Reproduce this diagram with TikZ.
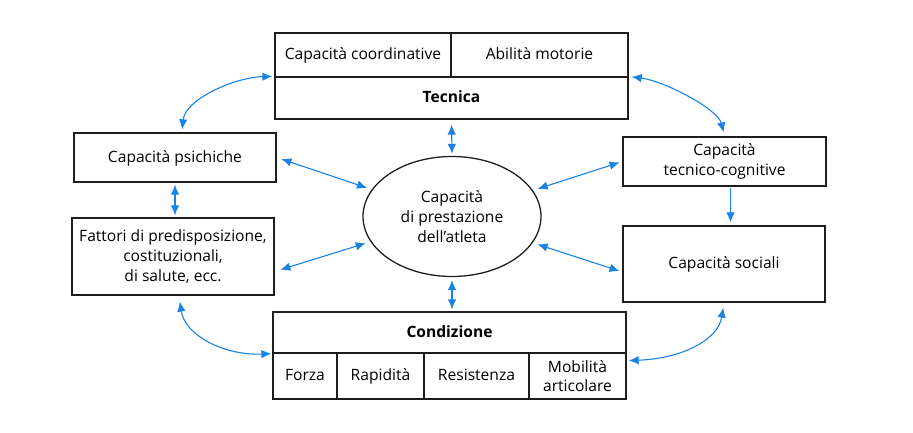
\documentclass[tikz,border=0pt]{standalone}
\usepackage{fontspec}
\setmainfont{Open Sans}
\usetikzlibrary{arrows.meta,shapes.geometric}
\definecolor{arrblue}{RGB}{25,130,230}
\definecolor{boxline}{RGB}{30,30,30}
\begin{document}
\begin{tikzpicture}[x=1pt,y=1pt,
  txt/.style={font=\fontsize{15.6}{19.8}\selectfont},
  box/.style={draw=boxline, line width=1.3pt, rectangle, inner sep=2pt, align=center, txt},
  oneline/.style={text height=11pt, text depth=1.5pt},
  bbox/.style={box, oneline, font=\fontsize{15.6}{19.8}\selectfont\bfseries},
  arr/.style={draw=arrblue, line width=1.1pt, {Latex[length=10pt,width=8.5pt]}-{Latex[length=10pt,width=8.5pt]}},
  arrone/.style={draw=arrblue, line width=1.1pt, -{Latex[length=10pt,width=8.5pt]}}]
\useasboundingbox (0,0) rectangle (913,-433);
% Tecnica block
\node[box, oneline, minimum width=176pt, minimum height=44pt] (coord) at (363,-55) {Capacità coordinative};
\node[box, oneline, minimum width=177pt, minimum height=44pt] (abil) at (539.5,-55) {Abilità motorie};
\node[bbox, minimum width=353pt, minimum height=42pt] (tec) at (451.5,-98) {Tecnica};
% side boxes
\node[box, oneline, minimum width=202pt, minimum height=49pt] (psi) at (175,-157.5) {Capacità psichiche};
\node[box, minimum width=202pt, minimum height=77pt] (fat) at (173,-256.5) {Fattori di predisposizione,\\costituzionali,\\di salute, ecc.};
\node[box, minimum width=203pt, minimum height=49pt] (tc) at (724.5,-161.5) {Capacità\\tecnico-cognitive};
\node[box, oneline, minimum width=202pt, minimum height=76pt] (soc) at (724,-264) {Capacità sociali};
% centre
\node[draw=boxline, line width=1.3pt, ellipse, minimum width=178pt, minimum height=120pt, inner sep=0pt, align=center, txt] (ell) at (452,-216.5) {Capacità\\di prestazione\\dell’atleta};
% Condizione block
\node[bbox, minimum width=353pt, minimum height=41pt] (cond) at (449.5,-332.5) {Condizione};
\node[box, oneline, minimum width=64pt, minimum height=46pt] (forza) at (305,-376) {Forza};
\node[box, oneline, minimum width=87pt, minimum height=46pt] (rap) at (380.5,-376) {Rapidità};
\node[box, oneline, minimum width=105pt, minimum height=46pt] (res) at (476.5,-376) {Resistenza};
\node[box, minimum width=97pt, minimum height=46pt, font=\fontsize{15.6}{18.5}\selectfont] (mob) at (577.5,-376) {Mobilità\\articolare};
% curved arrows
\draw[arr, shorten <=2pt, shorten >=3pt] (tec.north west) .. controls +(-40,-1) and +(3,33) .. ([xshift=7pt]psi.north);
\draw[arr, shorten <=3pt, shorten >=4pt] (tec.north east) .. controls +(37,-5) and +(-6.5,27) .. (tc.north);
\draw[arr, shorten <=6pt, shorten >=1pt] ([xshift=6pt]fat.south) .. controls +(6,-40) and +(-48,-2) .. (cond.south west);
\draw[arr, shorten <=5pt, shorten >=2pt] (soc.south) .. controls +(-6,-38) and +(54,2) .. ([yshift=-7pt]cond.south east);
% straight arrows
\draw[arr, shorten <=2pt, shorten >=2pt] (psi.south) -- (psi.south |- fat.north);
\draw[arr, shorten <=5pt, shorten >=2pt] (tec.south) -- (ell.north);
\draw[arr, shorten <=3pt, shorten >=2pt] (ell.south) -- (ell.south |- cond.north);
\draw[arr, shorten <=5pt, shorten >=5pt] (psi.east) -- (ell);
\draw[arr, shorten <=6pt, shorten >=5pt] ([yshift=-15pt]fat.east) -- (ell);
\draw[arr, shorten <=3pt, shorten >=5pt] (tc.west) -- (ell);
\draw[arr, shorten <=3pt, shorten >=5pt] ([yshift=-8pt]soc.west) -- (ell);
\draw[arrone, shorten <=1pt, shorten >=3pt] ([xshift=6pt]tc.south) -- ([xshift=6pt]tc.south |- soc.north);
\end{tikzpicture}
\end{document}
